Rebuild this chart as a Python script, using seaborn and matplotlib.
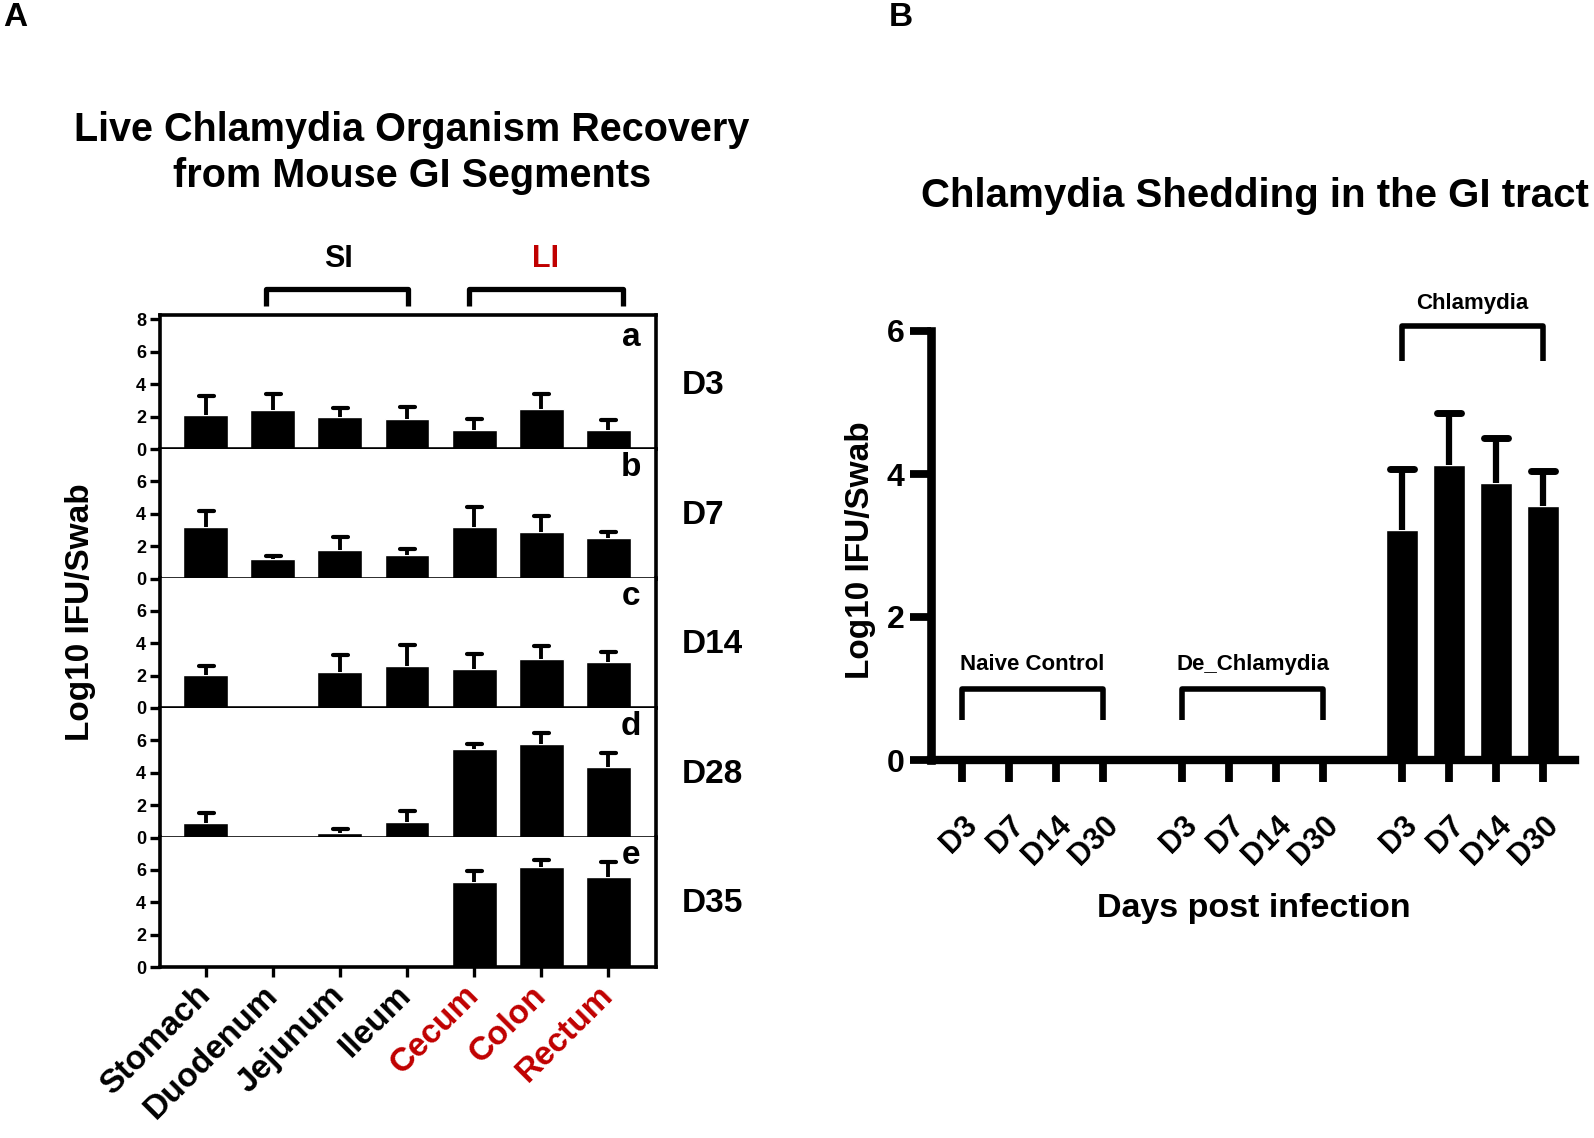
import numpy as np
import pandas as pd
import matplotlib
matplotlib.use("Agg")
import matplotlib.pyplot as plt
from matplotlib.markers import MarkerStyle
import seaborn as sns

# ---- panel A data: GI segments x days ----
segments = ["Stomach", "Duodenum", "Jejunum", "Ileum", "Cecum", "Colon", "Rectum"]
red_segments = ["Cecum", "Colon", "Rectum"]
days_a = ["D3", "D7", "D14", "D28", "D35"]
panel_tags = ["a", "b", "c", "d", "e"]

mean_d3 = [2.07, 2.38, 2.00, 1.88, 1.18, 2.48, 1.18]
err_d3 = [1.23, 1.01, 0.52, 0.74, 0.66, 0.91, 0.62]
mean_d7 = [3.16, 1.19, 1.77, 1.46, 3.16, 2.87, 2.48]
err_d7 = [1.04, 0.23, 0.81, 0.36, 1.25, 1.02, 0.39]
mean_d14 = [2.03, 0.0, 2.24, 2.61, 2.43, 3.03, 2.82]
err_d14 = [0.56, 0.0, 1.02, 1.31, 0.93, 0.81, 0.62]
mean_d28 = [0.87, 0.0, 0.27, 0.95, 5.46, 5.77, 4.37]
err_d28 = [0.66, 0.0, 0.27, 0.66, 0.31, 0.66, 0.85]
mean_d35 = [0.0, 0.0, 0.0, 0.0, 5.26, 6.16, 5.55]
err_d35 = [0.0, 0.0, 0.0, 0.0, 0.69, 0.47, 0.94]

# ---- panel B data: shedding ----
groups = ["Naive Control", "De_Chlamydia", "Chlamydia"]
timepoints = ["D3", "D7", "D14", "D30"]
shed_naive = [0.0, 0.0, 0.0, 0.0]
shed_de = [0.0, 0.0, 0.0, 0.0]
shed_chl = [3.21, 4.12, 3.87, 3.55]
err_chl = [0.86, 0.74, 0.64, 0.49]

RED = "#c00000"

sns.set_style("ticks")
plt.rcParams["font.family"] = ["Liberation Sans", "DejaVu Sans"]
plt.rcParams["font.weight"] = "bold"
plt.rcParams["axes.labelweight"] = "bold"
for k in ["text.color", "axes.labelcolor", "xtick.color", "ytick.color", "axes.edgecolor"]:
    plt.rcParams[k] = "black"

W, H = 1594, 1138
fig = plt.figure(figsize=(W / 100, H / 100), dpi=100)


def fx(px):
    return px / W


def fy(py):
    return 1 - py / H


def bracket(ax, x0, x1, y, ytip, lw, color="black"):
    ax.plot([x0, x0, x1, x1], [ytip, y, y, ytip], color=color, lw=lw,
            clip_on=False, solid_capstyle="butt", solid_joinstyle="round")


def upper_errorbar(ax, x, y, err, lw, capsize, capthick):
    # only the upper half of the error bar, with a rounded cap
    x, y, err = np.asarray(x), np.asarray(y), np.asarray(err)
    _, caps, _ = ax.errorbar(x, y, yerr=[np.zeros(len(err)), err], fmt="none",
                             ecolor="black", elinewidth=lw, capsize=capsize,
                             capthick=capthick)
    caps[0].set_visible(False)
    caps[1].set_marker(MarkerStyle("_", capstyle="round"))


# ================= panel A =================
means_a = [mean_d3, mean_d7, mean_d14, mean_d28, mean_d35]
errs_a = [err_d3, err_d7, err_d14, err_d28, err_d35]

left_a, width_a = 160, 496
zero_px = [449, 578.5, 708, 837.5, 967]
unit_px = 16.19
axes_a = []
for i in range(5):
    top = 8.25 if i == 0 else 8.0
    h_px = top * unit_px
    ax = fig.add_axes([fx(left_a), fy(zero_px[i]), width_a / W, h_px / H])
    axes_a.append(ax)
    df = pd.DataFrame({"segment": segments, "value": means_a[i]})
    sns.barplot(data=df, x="segment", y="value", order=segments, color="black",
                saturation=1, width=0.67, errorbar=None, ax=ax)
    xs = np.arange(len(segments))
    m = np.array(means_a[i])
    e = np.array(errs_a[i])
    keep = e > 0
    upper_errorbar(ax, xs[keep], m[keep], e[keep], lw=2.8, capsize=5.4, capthick=3.0)
    ax.set_xlim(-0.68, 6.71)
    ax.set_ylim(0, top)
    ax.set_yticks([0, 2, 4, 6, 8] if i == 0 else [0, 2, 4, 6])
    ax.set_xlabel("")
    ax.set_ylabel("")
    for s in ["left", "right", "bottom", "top"]:
        ax.spines[s].set_linewidth(2.6)
        ax.spines[s].set_visible(True)
    if i > 0:
        ax.spines["top"].set_visible(False)
    ax.tick_params(axis="both", direction="out", width=2.4, length=7, labelsize=13)
    ax.tick_params(axis="y", pad=3)
    for lab in ax.get_yticklabels():
        lab.set_fontweight("bold")
    ax.text(6.34, 6.35, panel_tags[i], ha="center", va="baseline",
            fontsize=24, fontweight="bold")
    ax.text(1.052, 3.9, days_a[i], transform=ax.get_yaxis_transform(),
            ha="left", va="center", fontsize=24, fontweight="bold")
    if i < 4:
        ax.set_xticklabels([])
    else:
        ax.set_xticks(xs)
        ax.set_xticklabels(segments, rotation=45, ha="right", va="center",
                           rotation_mode="anchor", fontsize=24, fontweight="bold")
        ax.tick_params(axis="x", pad=10)
        for lab in ax.get_xticklabels():
            if lab.get_text() in red_segments:
                lab.set_color(RED)

ax_top = axes_a[0]
bracket(ax_top, 0.90, 3.02, 9.88, 8.82, lw=3.8)
bracket(ax_top, 3.93, 6.22, 9.88, 8.82, lw=3.8)
ax_top.text(1.98, 11.74, "SI", ha="center", va="center", fontsize=22, fontweight="bold")
ax_top.text(5.06, 11.74, "LI", ha="center", va="center", fontsize=22,
            fontweight="bold", color=RED)

fig.text(fx(412), fy(153), "Live Chlamydia Organism Recovery\nfrom Mouse GI Segments",
         ha="center", va="center", fontsize=28.5, fontweight="bold", linespacing=1.25)
fig.text(fx(81), fy(612), "Log10 IFU/Swab", rotation=90, ha="center", va="center",
         fontsize=24, fontweight="bold")
fig.text(fx(15), fy(18), "A", ha="center", va="center", fontsize=24, fontweight="bold")

# ================= panel B =================
group_start = [0.0, 4.68, 9.36]
shed_vals = [shed_naive, shed_de, shed_chl]
pos, vals, labels = [], [], []
for g, start in enumerate(group_start):
    for t, tp in enumerate(timepoints):
        pos.append(start + t)
        vals.append(shed_vals[g][t])
        labels.append(tp)
df_b = pd.DataFrame({"pos": pos, "value": vals})

axb = fig.add_axes([fx(931), fy(760), (1575 - 931) / W, (760 - 331) / H])
sns.barplot(data=df_b, x="pos", y="value", native_scale=True, color="black",
            saturation=1, width=0.68, errorbar=None, ax=axb)
chl_pos = [group_start[2] + t for t in range(len(timepoints))]
upper_errorbar(axb, chl_pos, shed_chl, err_chl, lw=4.5, capsize=8.5, capthick=5)
axb.set_xlim(-0.66, 13.04)
axb.set_ylim(0, 6)
axb.set_yticks([0, 2, 4, 6])
axb.set_xticks(pos)
axb.set_xticklabels(labels, rotation=45, ha="right", rotation_mode="anchor",
                    fontsize=22, fontweight="bold")
for lab in axb.get_yticklabels():
    lab.set_fontweight("bold")
    lab.set_fontsize(23)
axb.spines["top"].set_visible(False)
axb.spines["right"].set_visible(False)
axb.spines["left"].set_linewidth(6.2)
axb.spines["bottom"].set_linewidth(6.0)
axb.tick_params(axis="y", direction="out", width=5.6, length=15, pad=4)
axb.tick_params(axis="x", direction="out", width=5.6, length=16, pad=20)
axb.set_xlabel("")
axb.set_ylabel("")

bracket(axb, 0, 3, 0.99, 0.56, lw=4.0)
bracket(axb, 4.68, 7.68, 0.99, 0.56, lw=4.0)
bracket(axb, 9.36, 12.36, 6.07, 5.58, lw=4.0)
axb.text(1.5, 1.33, groups[0], ha="center", va="center", fontsize=16, fontweight="bold")
axb.text(6.18, 1.33, groups[1], ha="center", va="center", fontsize=16, fontweight="bold")
axb.text(10.86, 6.39, groups[2], ha="center", va="center", fontsize=16,
         fontweight="bold", clip_on=False)

fig.text(fx(1255), fy(196), "Chlamydia Shedding in the GI tract", ha="center",
         va="center", fontsize=29, fontweight="bold")
fig.text(fx(1254), fy(909), "Days post infection", ha="center", va="center",
         fontsize=24.5, fontweight="bold")
fig.text(fx(860), fy(550), "Log10 IFU/Swab", rotation=90, ha="center", va="center",
         fontsize=24, fontweight="bold")
fig.text(fx(901), fy(18), "B", ha="center", va="center", fontsize=24, fontweight="bold")

fig.savefig("out.png", dpi=100)
